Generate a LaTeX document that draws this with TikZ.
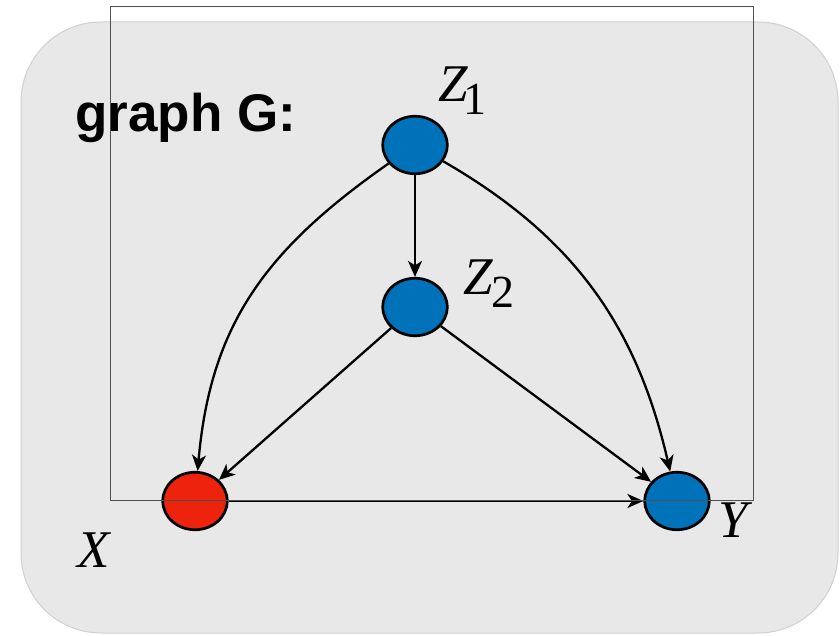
\documentclass[tikz,border=0pt]{standalone}
\usepackage{fontspec}
\setmainfont{Liberation Serif}
\newfontfamily\helv{Liberation Sans}
\usetikzlibrary{arrows.meta,shapes.geometric}
\definecolor{boxgray}{RGB}{232,232,232}
\definecolor{boxedge}{RGB}{208,208,208}
\definecolor{nodeblue}{RGB}{0,114,185}
\definecolor{nodered}{RGB}{238,35,14}
\definecolor{frame}{RGB}{80,80,80}
\begin{document}
\begin{tikzpicture}[x=1pt,y=1pt,
  var/.style={draw=black, line width=2.7pt, ellipse, minimum width=64.5pt, minimum height=57.5pt, inner sep=0pt},
  edge/.style={line width=2.3pt, -{Stealth[length=16pt,width=14pt,inset=4.5pt]}},
  lab/.style={anchor=base west, inner sep=0pt, font=\fontsize{53}{60}\selectfont\itshape}
]
\useasboundingbox (0,0) rectangle (840,635);
% background panel
\draw[boxedge, fill=boxgray, line width=1pt, rounded corners=80pt] (21,2) rectangle (838,613);
% title
\node[anchor=base west, inner sep=0pt, font=\helv\bfseries\fontsize{53}{60}\selectfont] (title) at (75,503) {graph G:};
% nodes
\node[var, fill=nodeblue] (Z1) at (415,490) {};
\node[var, fill=nodeblue] (Z2) at (415,328) {};
\node[var, fill=nodered] (X) at (195,134) {};
\node[var, fill=nodeblue] (Y) at (677,134) {};
% labels
\node[lab] (LZ1) at (438,533) {Z\kern-4pt\raisebox{-13pt}{\upshape\fontsize{46}{46}\selectfont 1}};
\node[lab] (LZ2) at (463,340) {Z\kern-1pt\raisebox{-13pt}{\upshape\fontsize{46}{46}\selectfont 2}};
\node[lab] (LX) at (77,68) {X};
\node[lab] (LY) at (718,98) {Y};
% edges
\draw[edge] (Z1) -- (Z2);
\draw[edge] (Z1) to[out=215, in=85, looseness=1.05] (X);
\draw[edge] (Z1) to[out=-30, in=103, looseness=1] (Y);
\draw[edge] (Z2) -- (X);
\draw[edge] (Z2) -- (Y);
\draw[edge] (X) -- (Y);
% thin frame drawn on top
\draw[frame, line width=1pt] (110,628) rectangle (753,135);
\end{tikzpicture}
\end{document}
